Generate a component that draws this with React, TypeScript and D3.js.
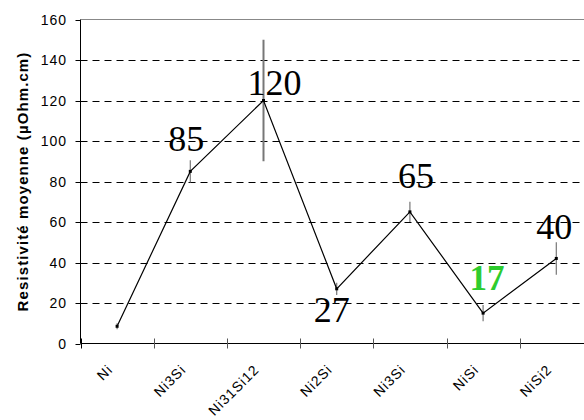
import { useEffect, useRef } from 'react';
import * as d3 from 'd3';

// Chart data
const categories = ['Ni', 'Ni3Si', 'Ni31Si12', 'Ni2Si', 'Ni3Si', 'NiSi', 'NiSi2'];
const values = [8.5, 85, 120, 27, 65, 15, 42];
const errors = [1.5, 5.5, 30, 3, 5, 4, 8];
const labels = ['', '85', '120', '27', '65', '17', '40'];
const yTicks = [0, 20, 40, 60, 80, 100, 120, 140, 160];

// label placement relative to the point (dx, baseline dy)
const labelOffsets: [number, number][] = [
    [0, 0], [-4, -20], [11, -6], [-5, 33], [6, -24], [4, -23], [-2, -19],
];

const SANS = "'Liberation Sans', Arial, Helvetica, sans-serif";
const SERIF = "'Liberation Serif', 'Times New Roman', 'DejaVu Serif', serif";

export default function App() {
    const svgRef = useRef<SVGSVGElement>(null);

    useEffect(() => {
        if (!svgRef.current) return;
        const svg = d3.select(svgRef.current);
        svg.selectAll('*').remove();

        const left = 80.5;
        const bandW = 73.2;
        const x = d3.scaleBand<number>()
            .domain(d3.range(categories.length))
            .range([left, left + bandW * categories.length]);
        const y = d3.scaleLinear().domain([0, 160]).range([343.5, 19.5]);
        const cx = (i: number) => x(i)! + x.bandwidth() / 2;

        // Grid lines
        yTicks.filter(t => t > 0 && t < 160).forEach(t => {
            svg.append('line')
                .attr('x1', left).attr('x2', 600)
                .attr('y1', Math.round(y(t)) + 0.5).attr('y2', Math.round(y(t)) + 0.5)
                .attr('stroke', '#000')
                .attr('stroke-dasharray', '7,5');
        });
        // top border
        svg.append('line')
            .attr('x1', left).attr('x2', 600)
            .attr('y1', y(160)).attr('y2', y(160))
            .attr('stroke', '#888');

        // Y axis
        svg.append('line')
            .attr('x1', left).attr('x2', left)
            .attr('y1', y(160)).attr('y2', y(0))
            .attr('stroke', '#000');
        yTicks.forEach(t => {
            svg.append('line')
                .attr('x1', left - 5).attr('x2', left)
                .attr('y1', Math.round(y(t)) + 0.5).attr('y2', Math.round(y(t)) + 0.5)
                .attr('stroke', '#000');
            svg.append('text')
                .attr('x', 67).attr('y', y(t))
                .attr('text-anchor', 'end')
                .attr('dominant-baseline', 'central')
                .style('font-family', SANS)
                .style('font-size', '14px')
                .style('letter-spacing', '1px')
                .text(t);
        });

        // X axis
        svg.append('line')
            .attr('x1', left).attr('x2', 600)
            .attr('y1', y(0)).attr('y2', y(0))
            .attr('stroke', '#000');
        d3.range(categories.length + 1).forEach(i => {
            const tx = Math.round(left + i * bandW) + 0.5;
            svg.append('line')
                .attr('x1', tx).attr('x2', tx)
                .attr('y1', y(0) - 5).attr('y2', y(0) + 5)
                .attr('stroke', i === 0 ? '#000' : '#555');
        });
        categories.forEach((c, i) => {
            const lx = cx(i) - 7;
            const ly = 367;
            svg.append('text')
                .attr('transform', `translate(${lx},${ly}) rotate(-45)`)
                .attr('text-anchor', 'end')
                .attr('dominant-baseline', 'central')
                .style('font-family', SANS)
                .style('font-size', '14px')
                .style('letter-spacing', '1px')
                .text(c);
        });

        // Y axis title
        svg.append('text')
            .attr('transform', `translate(28,${(y(0) + y(160)) / 2}) rotate(-90)`)
            .attr('text-anchor', 'middle')
            .style('font-family', SANS)
            .style('font-weight', 'bold')
            .style('font-size', '15px')
            .style('letter-spacing', '1.1px')
            .text('Resistivité moyenne (µOhm.cm)');

        // Error bars
        values.forEach((v, i) => {
            svg.append('line')
                .attr('x1', cx(i)).attr('x2', cx(i))
                .attr('y1', y(v + errors[i])).attr('y2', y(v - errors[i]))
                .attr('stroke', '#777')
                .attr('stroke-width', i === 2 ? 2 : 1.2);
        });

        // Line
        const line = d3.line<number>()
            .x((_, i) => cx(i))
            .y(d => y(d));
        svg.append('path')
            .attr('d', line(values)!)
            .attr('fill', 'none')
            .attr('stroke', '#000')
            .attr('stroke-width', 1.2);

        values.forEach((v, i) => {
            svg.append('rect')
                .attr('x', cx(i) - 1.5).attr('y', y(v) - 1.5)
                .attr('width', 3).attr('height', 3)
                .attr('fill', '#000');
        });

        // Value labels
        labels.forEach((l, i) => {
            if (!l) return;
            const isGreen = l === '17';
            svg.append('text')
                .attr('x', cx(i) + labelOffsets[i][0])
                .attr('y', y(values[i]) + labelOffsets[i][1])
                .attr('text-anchor', 'middle')
                .style('font-family', SERIF)
                .style('font-size', isGreen ? '35px' : '36px')
                .style('font-weight', isGreen ? 'bold' : 'normal')
                .attr('fill', isGreen ? '#2ecc2e' : '#000')
                .text(l);
        });
    }, []);

    return (
        <div style={{ position: 'absolute', left: 0, top: 0, width: 584, height: 420, overflow: 'hidden', background: '#fff' }}>
            <svg ref={svgRef} width={584} height={420} style={{ display: 'block' }} />
        </div>
    );
}
